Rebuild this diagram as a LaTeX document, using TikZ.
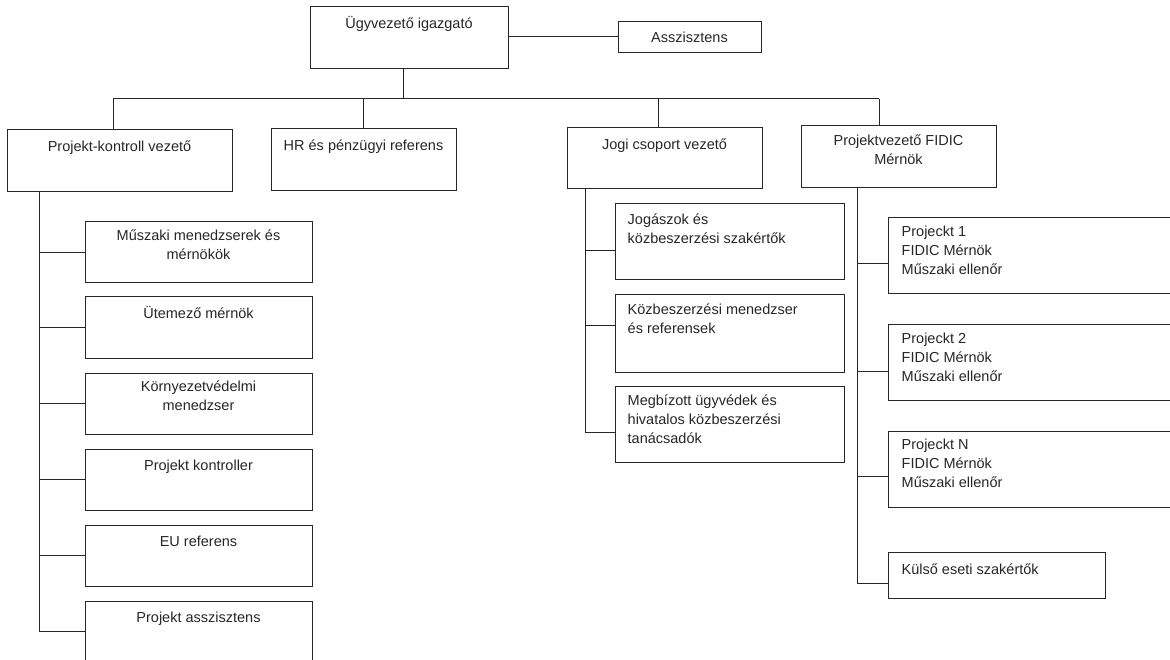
\documentclass[tikz,border=0pt]{standalone}
\usepackage{fontspec}
\setmainfont{Liberation Sans}
\begin{document}
\begin{tikzpicture}[x=1pt,y=-1pt,
  box/.style={draw=black!85, line width=1pt, rectangle, inner sep=0pt},
  conn/.style={draw=black!85, line width=1pt},
  lbl/.style={inner sep=0pt, text=black!85, font=\fontsize{14.5}{19}\selectfont, execute at begin node=\strut},
  lblc/.style={lbl, anchor=north, align=center},
  lbll/.style={lbl, anchor=north west, align=left},
  ]
\useasboundingbox (0,0) rectangle (1170,660);
\clip (0,0) rectangle (1170,660);

% top level
\node[box, minimum width=198pt, minimum height=62pt] (top) at (409,38) {};
\node[box, minimum width=143pt, minimum height=31pt, text=black!85, font=\fontsize{14.5}{19}\selectfont] (asz) at (689.5,37) {Asszisztens};

% second level
\node[box, minimum width=225pt, minimum height=62pt] (pk) at (119.5,161) {};
\node[box, minimum width=185pt, minimum height=62pt] (hr) at (363.5,160) {};
\node[box, minimum width=195pt, minimum height=61pt] (jogi) at (664.5,158.5) {};
\node[box, minimum width=195pt, minimum height=62pt] (pv) at (898.5,157) {};

% left column
\node[box, minimum width=227pt, minimum height=61pt] (m1) at (198.5,252.5) {};
\node[box, minimum width=227pt, minimum height=61pt] (m2) at (198.5,327.5) {};
\node[box, minimum width=227pt, minimum height=61pt] (m3) at (198.5,403.5) {};
\node[box, minimum width=227pt, minimum height=61pt] (m4) at (198.5,479.5) {};
\node[box, minimum width=227pt, minimum height=61pt] (m5) at (198.5,555.5) {};
\node[box, minimum width=227pt, minimum height=61pt] (m6) at (198.5,631.5) {};

% legal column
\node[box, minimum width=229pt, minimum height=76pt] (j1) at (729.5,242) {};
\node[box, minimum width=229pt, minimum height=77pt] (j2) at (729.5,333.5) {};
\node[box, minimum width=229pt, minimum height=76pt] (j3) at (729.5,424) {};

% right column
\node[box, minimum width=297pt, minimum height=76pt] (r1) at (1036.5,256) {};
\node[box, minimum width=297pt, minimum height=75pt] (r2) at (1036.5,362.5) {};
\node[box, minimum width=297pt, minimum height=76pt] (r3) at (1036.5,469) {};
\node[box, minimum width=217pt, minimum height=46pt] (r4) at (996.5,575) {};

% labels
\node[lblc] at ([yshift=-8.7pt]top.north) {Ügyvezető igazgató};
\node[lblc] at ([yshift=-8.7pt]pk.north) {Projekt-kontroll vezető};
\node[lblc] at ([yshift=-8.7pt]hr.north) {HR és pénzügyi referens};
\node[lblc] at ([yshift=-8.7pt]jogi.north) {Jogi csoport vezető};
\node[lblc] at ([yshift=-8.7pt]pv.north) {Projektvezető FIDIC\\Mérnök};

\node[lblc] at ([yshift=-7.7pt]m1.north) {Műszaki menedzserek és\\mérnökök};
\node[lblc] at ([yshift=-8.7pt]m2.north) {Ütemező mérnök};
\node[lblc] at ([yshift=-7.7pt]m3.north) {Környezetvédelmi\\menedzser};
\node[lblc] at ([yshift=-8.7pt]m4.north) {Projekt kontroller};
\node[lblc] at ([yshift=-8.7pt]m5.north) {EU referens};
\node[lblc] at ([yshift=-8.7pt]m6.north) {Projekt asszisztens};

\node[lbll] at ([xshift=13pt,yshift=-10pt]j1.north west) {Jogászok és\\közbeszerzési szakértők};
\node[lbll] at ([xshift=13pt,yshift=-9pt]j2.north west) {Közbeszerzési menedzser\\és referensek};
\node[lbll] at ([xshift=13pt,yshift=-8.7pt]j3.north west) {Megbízott ügyvédek és\\hivatalos közbeszerzési\\tanácsadók};

\node[lbll] at ([xshift=14pt,yshift=-8.7pt]r1.north west) {Projeckt 1\\FIDIC Mérnök\\Műszaki ellenőr};
\node[lbll] at ([xshift=14pt,yshift=-8.7pt]r2.north west) {Projeckt 2\\FIDIC Mérnök\\Műszaki ellenőr};
\node[lbll] at ([xshift=14pt,yshift=-8.7pt]r3.north west) {Projeckt N\\FIDIC Mérnök\\Műszaki ellenőr};
\node[lbll] at ([xshift=14pt,yshift=-9.7pt]r4.north west) {Külső eseti szakértők};

% connectors top
\draw[conn] (top.east |- asz.west) -- (asz.west);
\coordinate (busL) at (113,99);
\coordinate (busR) at (879,99);
\draw[conn] (busL) -- (busR);
\draw[conn] ([xshift=-6pt]top.south) -- ([xshift=-6pt]top.south |- busL);
\draw[conn] (busL) -- (busL |- pk.north);
\draw[conn] (hr.north |- busL) -- (hr.north);
\draw[conn] ([xshift=-6.5pt]jogi.north |- busL) -- ([xshift=-6.5pt]jogi.north);
\draw[conn] (busR) -- (busR |- pv.north);

% left spine
\coordinate (sL) at (39,0);
\draw[conn] (sL |- pk.south) -- (sL |- m6.west);
\foreach \n in {m1,m2,m3,m4,m5,m6}
  \draw[conn] (sL |- \n.west) -- (\n.west);

% legal spine
\coordinate (sJ) at (585,0);
\draw[conn] (sJ |- jogi.south) -- (585,432);
\draw[conn] (585,251) -- (j1.west |- 0,251);
\draw[conn] (585,326) -- (j2.west |- 0,326);
\draw[conn] (585,432) -- (j3.west |- 0,432);

% right spine
\coordinate (sR) at (857,0);
\draw[conn] (sR |- pv.south) -- (857,583);
\draw[conn] (857,264) -- (r1.west |- 0,264);
\draw[conn] (857,371) -- (r2.west |- 0,371);
\draw[conn] (857,476) -- (r3.west |- 0,476);
\draw[conn] (857,583) -- (r4.west |- 0,583);
\end{tikzpicture}
\end{document}
